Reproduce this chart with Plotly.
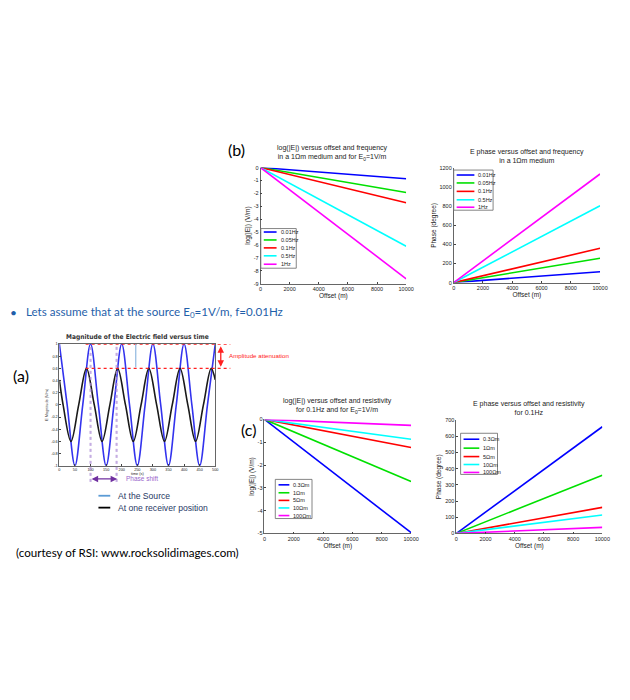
import plotly.graph_objects as go

# ---------------- data ----------------
# panel (a): field magnitude versus time (values read at peaks / troughs / zero crossings)
time_src = [0, 25, 50, 75, 100, 125, 150, 175, 200, 225, 250, 275, 300, 325, 350, 375, 400, 425, 450, 475, 500]
E_src = [1, 0, -1, 0, 1, 0, -1, 0, 1, 0, -1, 0, 1, 0, -1, 0, 1, 0, -1, 0, 1]
time_rcv = [0, 12, 37, 62, 87, 112, 137, 162, 187, 212, 237, 262, 287, 312, 337, 362, 387, 412, 437, 462, 487, 500]
E_rcv = [0.41, 0, -0.6, 0, 0.6, 0, -0.6, 0, 0.6, 0, -0.6, 0, 0.6, 0, -0.6, 0, 0.6, 0, -0.6, 0, 0.6, 0.41]
time_ticks = [0, 50, 100, 150, 200, 250, 300, 350, 400, 450, 500]
mag_ticks = [-1, -0.8, -0.6, -0.4, -0.2, 0, 0.2, 0.4, 0.6, 0.8, 1]

# panels (b) and (c): straight lines from zero offset to 10000 m
offset_m = [0, 10000]
offset_ticks = [0, 2000, 4000, 6000, 8000, 10000]
freq_labels = ["0.01Hz", "0.05Hz", "0.1Hz", "0.5Hz", "1Hz"]
logE_vs_freq = [[0, -0.87], [0, -1.93], [0, -2.73], [0, -6.1], [0, -8.63]]
phase_vs_freq = [[0, 114], [0, 256], [0, 360], [0, 806], [0, 1140]]
rho_labels = ["0.3\u03a9m", "1\u03a9m", "5\u03a9m", "10\u03a9m", "100\u03a9m"]
logE_vs_rho = [[0, -4.97], [0, -2.72], [0, -1.23], [0, -0.87], [0, -0.26]]
phase_vs_rho = [[0, 659], [0, 360], [0, 161], [0, 114], [0, 37]]

series_colors = ["#0000FF", "#00E000", "#FF0000", "#00FFFF", "#FF00FF"]

W, H = 630, 700
def px(x):
    return x / W
def py(y):
    return 1 - y / H

fig = go.Figure()

# ---- panel (a) traces ----
fig.add_trace(go.Scatter(x=time_src, y=E_src, mode="lines", line=dict(color="#3333EE", width=1.6, shape="spline", smoothing=1.0),
                         xaxis="x", yaxis="y", showlegend=False, hoverinfo="skip"))
fig.add_trace(go.Scatter(x=time_rcv, y=E_rcv, mode="lines", line=dict(color="#1a1a1a", width=1.6, shape="spline", smoothing=1.0),
                         xaxis="x", yaxis="y", showlegend=False, hoverinfo="skip"))

panels = [
    ("x2", "y2", logE_vs_freq),
    ("x3", "y3", phase_vs_freq),
    ("x4", "y4", logE_vs_rho),
    ("x5", "y5", phase_vs_rho),
]
for xa, ya, data in panels:
    for vals, col in zip(data, series_colors):
        fig.add_trace(go.Scatter(x=offset_m, y=vals, mode="lines", line=dict(color=col, width=1.6),
                                 xaxis=xa, yaxis=ya, showlegend=False, hoverinfo="skip"))

TF = "Liberation Sans"
SLIDE = "Lato"

def small_axis(domain, rng, tickvals, title, anchor, tsize=5.5, title_size=6.5, standoff=2, mirror=False):
    return dict(domain=domain, range=rng, tickvals=tickvals, ticktext=[str(v) for v in tickvals],
                ticks="inside", ticklen=2, tickcolor="#444",
                showline=True, linecolor="#666", linewidth=0.8, mirror=mirror, showgrid=False, zeroline=False,
                tickfont=dict(size=tsize, family=TF, color="#222"),
                title=dict(text=title, font=dict(size=title_size, family=TF, color="#222"), standoff=standoff),
                anchor=anchor, fixedrange=True)

layout = dict(
    width=W, height=H, margin=dict(l=0, r=0, t=0, b=0),
    paper_bgcolor="white", plot_bgcolor="white", showlegend=False,
    xaxis=small_axis([px(58.3), px(216.7)], [0, 500], time_ticks, "time (s)", "y", tsize=3.8, title_size=3.8, standoff=1, mirror=True),
    yaxis=small_axis([py(466.7), py(344)], [-1, 1], mag_ticks, "E Magnitude (V/m)", "x", tsize=3.8, title_size=3.8, standoff=2, mirror=True),
    xaxis2=small_axis([px(262.7), px(410.7)], [0, 10000], offset_ticks, "Offset (m)", "y2"),
    yaxis2=small_axis([py(283), py(166)], [-9, 0], list(range(-9, 1)), "log(|E|) (V/m)", "x2"),
    xaxis3=small_axis([px(459), px(607.7)], [0, 10000], offset_ticks, "Offset (m)", "y3"),
    yaxis3=small_axis([py(282), py(166.7)], [0, 1200], [0, 200, 400, 600, 800, 1000, 1200], "Phase (degree)", "x3"),
    xaxis4=small_axis([px(266.7), px(415.7)], [0, 10000], offset_ticks, "Offset (m)", "y4"),
    yaxis4=small_axis([py(535), py(420)], [-5, 0], [-5, -4, -3, -2, -1, 0], "log(|E|) (V/m)", "x4"),
    xaxis5=small_axis([px(461.7), px(610)], [0, 10000], offset_ticks, "Offset (m)", "y5"),
    yaxis5=small_axis([py(535), py(420.7)], [0, 700], [0, 100, 200, 300, 400, 500, 600, 700], "Phase (degree)", "x5"),
)
fig.update_layout(**layout)

ann = []
shapes = []

def text(x, y, s, size, color="black", family=SLIDE, xanchor="left", yanchor="middle", **kw):
    ann.append(dict(x=px(x), y=py(y), xref="paper", yref="paper", text=s, showarrow=False,
                    font=dict(size=size, color=color, family=family), xanchor=xanchor, yanchor=yanchor, **kw))

# panel labels and slide text
text(228, 148, "(b)", 16)
text(9, 376, "(a)", 16)
text(241, 430, "(c)", 16)
text(6, 312, "\u2022", 12, color="#1F5FAA")
text(22, 312, "Lets assume that at the source E<sub>0</sub>=1V/m, f=0.01Hz", 11.6, color="#1F5FAA")
text(12, 554, "(courtesy of RSI: www.rocksolidimages.com)", 11.6)

# chart titles
text(336, 151, "log(|E|) versus offset and frequency<br>in a 1\u03a9m medium and for E<sub>0</sub>=1V/m", 7, family=TF, xanchor="center", color="#222")
text(533, 154, "E phase versus offset and frequency<br>in a 1\u03a9m medium", 7, family=TF, xanchor="center", color="#222")
text(341, 406.5, "log(|E|) versus offset and resistivity<br>for 0.1Hz and for E<sub>0</sub>=1V/m", 7, family=TF, xanchor="center", color="#222")
text(536, 408, "E phase versus offset and resistivity<br>for 0.1Hz", 7, family=TF, xanchor="center", color="#222")
text(137.5, 336.5, "<b>Magnitude of the Electric field versus time</b>", 6.6,
     family="DejaVu Sans Condensed, Liberation Sans", xanchor="center", color="#333")

# legends for (b)/(c)
def legend(x0, y0, x1, y1, ys, lx0, lx1, tx, labels):
    shapes.append(dict(type="rect", xref="paper", yref="paper", x0=px(x0), x1=px(x1), y0=py(y0), y1=py(y1),
                       line=dict(color="#666", width=0.8), fillcolor="white", layer="above"))
    for yy, lab, col in zip(ys, labels, series_colors):
        shapes.append(dict(type="line", xref="paper", yref="paper", x0=px(lx0), x1=px(lx1), y0=py(yy), y1=py(yy),
                           line=dict(color=col, width=1.6), layer="above"))
        text(tx, yy, lab, 5.5, family=TF, color="#222")

legend(263, 227.5, 299, 267.5, [231, 239, 247, 255, 263.5], 266, 279, 281, freq_labels)
legend(459, 168.5, 499, 209, [173.5, 181.5, 190, 198.5, 206], 462, 480, 482, freq_labels)
legend(277.7, 480.5, 315, 520, [486, 494, 501.7, 509.3, 517], 281, 292, 294, rho_labels)
legend(466, 434, 503.5, 475.5, [440, 449, 457.5, 465.5, 473.5], 469, 485, 487, rho_labels)

# panel (a) decorations
for yv in [1, 0.6]:
    shapes.append(dict(type="line", xref="paper", yref="y", x0=px(85), x1=px(232), y0=yv, y1=yv,
                       line=dict(color="#FF2020", width=1.3, dash="dot"), layer="above"))
for tv in [98.5, 101.5, 182, 185]:
    shapes.append(dict(type="line", xref="x", yref="paper", x0=tv, x1=tv, y0=py(483), y1=py(344),
                       line=dict(color="#B090D8", width=0.9, dash="dot"), layer="above"))
shapes.append(dict(type="line", xref="x", yref="y", x0=245, x1=245, y0=1, y1=0.62,
                   line=dict(color="#8FB8E0", width=1.2), layer="above"))

# red amplitude arrow
ann.append(dict(xref="paper", yref="paper", x=px(222.3), y=py(367), ax=0, ay=-22,
                text="", showarrow=True, arrowhead=2, arrowside="end+start", arrowsize=1, arrowwidth=1.3, arrowcolor="#FF2020"))
text(229, 356, "Amplitude attenuation", 6.2, color="#FF2020", family=TF)
# purple phase-shift arrow
ann.append(dict(xref="paper", yref="paper", x=px(117), y=py(480), ax=-27, ay=0,
                text="", showarrow=True, arrowhead=2, arrowside="end+start", arrowsize=1, arrowwidth=1.3, arrowcolor="#7030A0"))
text(124, 480, "Phase shift", 6.5, color="#9966CC", family=TF)

# legend of (a)
shapes.append(dict(type="line", xref="paper", yref="paper", x0=px(98), x1=px(110), y0=py(497), y1=py(497),
                   line=dict(color="#5B9BD5", width=1.8)))
shapes.append(dict(type="line", xref="paper", yref="paper", x0=px(98), x1=px(110), y0=py(509), y1=py(509),
                   line=dict(color="#000000", width=1.8)))
text(116, 497, "At the Source", 8.6, color="#1F3864", family=TF)
text(116, 509, "At one receiver position", 8.6, color="#1F3864", family=TF)

fig.update_layout(annotations=ann, shapes=shapes)
fig.write_html("out.html", config={"displayModeBar": False}, post_script="document.body.style.margin='0px';")
